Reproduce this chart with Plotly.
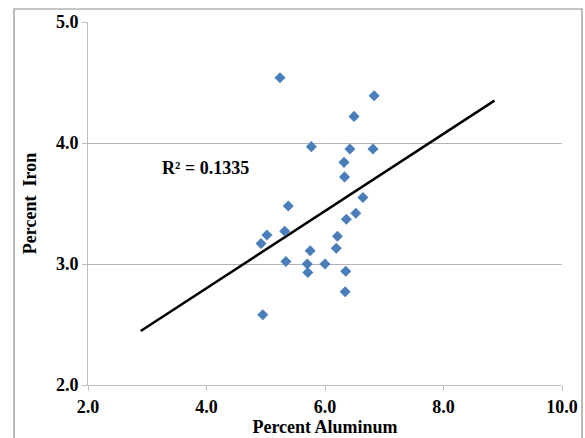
import plotly.graph_objects as go

aluminum = [5.24, 6.83, 6.49, 5.77, 6.42, 6.81, 6.32, 6.33, 6.64, 5.38, 6.52, 6.36, 5.02,
            5.32, 4.92, 6.21, 5.75, 6.19, 5.34, 5.70, 6.00, 5.71, 6.35, 6.34, 4.95]
iron = [4.54, 4.39, 4.22, 3.97, 3.95, 3.95, 3.84, 3.72, 3.55, 3.48, 3.42, 3.37, 3.24,
        3.27, 3.17, 3.23, 3.11, 3.13, 3.02, 3.00, 3.00, 2.93, 2.94, 2.77, 2.58]
trend_x = [2.89, 8.86]
trend_y = [2.446, 4.35]
r2_label = "R² = 0.1335"
x_ticks = [2, 4, 6, 8, 10]
y_ticks = [2, 3, 4, 5]

FONT = "Liberation Serif"

fig = go.Figure()
fig.add_trace(go.Scatter(x=trend_x, y=trend_y, mode="lines",
                         line=dict(color="black", width=2.5), hoverinfo="skip"))
fig.add_trace(go.Scatter(x=aluminum, y=iron, mode="markers",
                         marker=dict(symbol="diamond", size=8.5, color="#4a7ebb",
                                     line=dict(width=0))))

fig.add_annotation(x=3.98, y=3.79, text=f"<b>{r2_label}</b>", showarrow=False,
                   font=dict(family=FONT, size=18, color="black"))

fig.add_shape(type="rect", xref="paper", yref="paper",
              x0=(14 - 88) / 474, x1=(582 - 88) / 474,
              y0=(385 - 460) / 363, y1=(385 - 9) / 363,
              line=dict(color="#8c8c8c", width=1.2), fillcolor="rgba(0,0,0,0)", layer="below")

fig.update_layout(
    width=585, height=438,
    margin=dict(l=88, r=23, t=22, b=53),
    paper_bgcolor="white", plot_bgcolor="white",
    showlegend=False,
    font=dict(family=FONT, color="black"),
    xaxis=dict(range=[2, 10], tickvals=x_ticks, ticktext=[f"<b>{v:.1f}</b>" for v in x_ticks],
               showgrid=False, zeroline=False, showline=True, linecolor="#bfbfbf", linewidth=1,
               ticks="outside", ticklen=5, tickcolor="#bfbfbf", automargin=False,
               tickfont=dict(family=FONT, size=18, color="black"),
               title=dict(text="<b>Percent Aluminum</b>", font=dict(family=FONT, size=18), standoff=2)),
    yaxis=dict(range=[2, 5], tickvals=y_ticks, ticktext=[f"<b>{v:.1f}</b>" for v in y_ticks],
               showgrid=True, gridcolor="#b3b3b3", gridwidth=1, zeroline=False,
               showline=True, linecolor="#bfbfbf", linewidth=1, automargin=False,
               ticks="outside", ticklen=5, tickcolor="#bfbfbf",
               tickfont=dict(family=FONT, size=18, color="black"),
               title=dict(text="<b>Percent  Iron</b>", font=dict(family=FONT, size=18), standoff=14)),
)

fig.write_html("out.html")
